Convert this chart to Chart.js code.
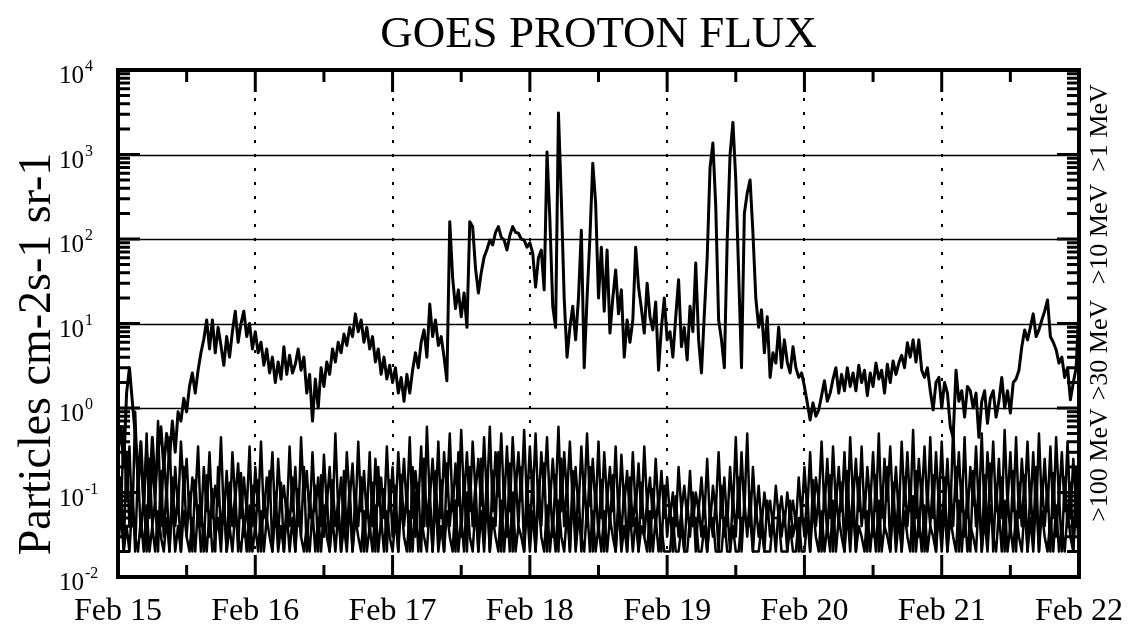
<!DOCTYPE html>
<html>
<head>
<meta charset="utf-8">
<title>GOES Proton Flux</title>
<script src="https://cdn.jsdelivr.net/npm/chart.js@4.4.0/dist/chart.umd.min.js"></script>
<style>
  html, body { margin: 0; padding: 0; background: #fff; }
  #wrap { width: 1138px; height: 630px; }
</style>
</head>
<body>
<div id="wrap"><canvas id="flux-chart" width="1138" height="630"></canvas></div>
<script>
"use strict";

// day labels on the time axis (one every 24 h, starting at hour 0)
const dayLabels = ["Feb 15", "Feb 16", "Feb 17", "Feb 18", "Feb 19", "Feb 20", "Feb 21", "Feb 22"];
// decades shown on the log axis
const decadeExponents = [-2, -1, 0, 1, 2, 3, 4];
const channelLabels = [">100 MeV", ">30 MeV", ">10 MeV", ">1 MeV"];

// all channels: one value every 30 minutes, Feb 15 00:00 to Feb 22 00:00
const flux1MeV = [
  // Feb 15
  0.3, 0.6, 0.2, 1.5, 3.0, 1.2, 0.5, 0.15, 0.4, 0.08, 0.3, 0.1, 0.45, 0.12, 0.3, 0.6,
  0.2, 0.5, 0.25, 0.7, 0.3, 0.9, 0.7, 1.3, 0.9, 1.8, 2.6, 1.5, 2.8, 4.5, 6.5, 11,
  5, 11, 4.5, 9, 5.5, 3.2, 7, 4, 8, 14, 6, 10, 14, 7, 10, 5,
  // Feb 16
  8, 4.5, 6, 3.2, 5, 2.6, 4, 2.0, 3.5, 2.2, 5.3, 2.5, 4.2, 2.6, 3.3, 5,
  2.8, 4, 1.5, 2.5, 0.7, 2.2, 1.0, 3, 1.8, 3.5, 2.5, 5, 3.5, 6, 4.5, 7.5,
  5.5, 9, 7, 13, 8, 11, 6, 9, 5, 7, 3.5, 5, 2.5, 4, 2.2, 3.2,
  // Feb 17
  2, 3, 1.5, 2.3, 1.2, 2.5, 1.5, 2.8, 4.5, 3, 6, 8.4, 4, 17, 7, 11,
  5.5, 7, 4, 2.1, 160, 35, 15, 25, 12, 23, 9, 160, 140, 45, 23, 40,
  61, 75, 97, 85, 120, 140, 105, 97, 74, 110, 140, 120, 117, 100, 97, 80,
  // Feb 18
  90, 68, 27, 60, 74, 25, 1070, 170, 16, 9, 3100, 300, 20, 4, 9, 16,
  6.4, 20, 127, 3, 20, 105, 790, 265, 20, 80, 14, 74, 7.7, 20, 43, 13,
  25, 4, 11, 6, 11, 80, 27, 15, 7.7, 30, 12, 8.4, 18, 2.8, 9, 20,
  // Feb 19
  6.4, 8, 4, 12, 33, 5.3, 9, 3.7, 16, 8, 52, 6.4, 2.6, 13, 60, 700,
  1370, 240, 11, 6.4, 3, 97, 1000, 2400, 500, 40, 3, 200, 350, 500, 117, 20,
  9, 14.5, 4.5, 12, 2.3, 4.5, 3.4, 9, 3, 6.4, 3.5, 2.6, 5.3, 3, 2.3, 2.6,
  // Feb 20
  1.8, 1.15, 0.72, 1.15, 0.8, 0.95, 1.4, 2.1, 1.2, 1.5, 2.2, 3, 1.5, 2.5, 1.6, 3,
  1.8, 2.6, 1.6, 3.2, 2, 2.8, 1.4, 2.6, 1.8, 3.4, 2.2, 2.8, 1.5, 3.3, 2, 3.6,
  2.5, 3.4, 4.2, 3, 5.9, 4, 6.4, 3.5, 6.4, 2.8, 2.3, 3, 1.6, 0.95, 2, 2.3,
  // Feb 21
  1.0, 2, 1.5, 0.6, 0.45, 2.8, 1.2, 1.6, 0.78, 1.8, 1.6, 1.0, 1.5, 0.45, 1.2, 1.6,
  0.66, 1.3, 1.6, 0.78, 1.2, 2.3, 1.0, 1.6, 0.87, 2, 2.2, 2.8, 5.3, 8.4, 6.4, 9,
  13, 7, 8.4, 11, 14, 19, 7, 6, 4.9, 3.4, 4, 2.3, 3, 1.25, 2, 3,
  15
];

const flux10MeV = [
  0.2, 0.05, 0.6, 0.08, 0.35, 0.04, 0.9, 0.1, 0.3, 0.06, 0.5, 0.05, 0.25, 0.07, 0.7, 0.04, 0.3, 0.08, 0.45, 0.05, 0.2, 0.06, 0.4, 0.1,
  0.25, 0.05, 0.15, 0.08, 0.35, 0.04, 0.2, 0.06, 0.3, 0.05, 0.12, 0.07, 0.45, 0.05, 0.18, 0.04, 0.3, 0.08, 0.22, 0.05, 0.15, 0.06, 0.35, 0.04,
  0.2, 0.06, 0.4, 0.05, 0.15, 0.08, 0.3, 0.04, 0.25, 0.07, 0.12, 0.05, 0.35, 0.06, 0.2, 0.04, 0.45, 0.08, 0.18, 0.05, 0.3, 0.06, 0.15, 0.04,
  0.28, 0.07, 0.2, 0.05, 0.5, 0.06, 0.15, 0.04, 0.3, 0.08, 0.22, 0.05, 0.4, 0.06, 0.18, 0.05, 0.3, 0.04, 0.25, 0.07, 0.15, 0.05, 0.35, 0.06,
  0.2, 0.05, 0.3, 0.08, 0.25, 0.06, 0.45, 0.05, 0.18, 0.07, 0.35, 0.04, 0.6, 0.08, 0.25, 0.06, 0.4, 0.05, 0.3, 0.09, 0.5, 0.06, 0.22, 0.07,
  0.55, 0.08, 0.3, 0.06, 0.4, 0.1, 0.25, 0.07, 0.45, 0.08, 0.6, 0.06, 0.3, 0.09, 0.5, 0.07, 0.35, 0.06, 0.45, 0.1, 0.3, 0.08, 0.55, 0.07,
  0.35, 0.08, 0.5, 0.06, 0.3, 0.1, 0.45, 0.07, 0.25, 0.08, 0.6, 0.06, 0.3, 0.09, 0.4, 0.07, 0.2, 0.06, 0.35, 0.08, 0.5, 0.07, 0.25, 0.06,
  0.4, 0.05, 0.3, 0.08, 0.2, 0.06, 0.35, 0.05, 0.28, 0.07, 0.18, 0.05, 0.3, 0.06, 0.22, 0.05, 0.35, 0.07, 0.15, 0.05, 0.25, 0.06, 0.18, 0.05,
  0.15, 0.05, 0.1, 0.04, 0.2, 0.06, 0.12, 0.05, 0.18, 0.04, 0.1, 0.06, 0.15, 0.05, 0.25, 0.04, 0.12, 0.06, 0.3, 0.05, 0.15, 0.04, 0.2, 0.06,
  0.45, 0.05, 0.3, 0.06, 0.5, 0.04, 0.2, 0.05, 0.12, 0.04, 0.1, 0.05, 0.08, 0.04, 0.12, 0.05, 0.09, 0.04, 0.1, 0.05, 0.08, 0.04, 0.15, 0.05,
  0.2, 0.06, 0.3, 0.05, 0.15, 0.08, 0.4, 0.06, 0.25, 0.05, 0.35, 0.07, 0.2, 0.06, 0.3, 0.05, 0.45, 0.08, 0.25, 0.06, 0.35, 0.05, 0.2, 0.07,
  0.3, 0.06, 0.5, 0.05, 0.25, 0.08, 0.35, 0.06, 0.2, 0.05, 0.4, 0.07, 0.3, 0.06, 0.55, 0.05, 0.25, 0.08, 0.35, 0.06, 0.45, 0.05, 0.3, 0.07,
  0.4, 0.06, 0.25, 0.05, 0.6, 0.08, 0.3, 0.06, 0.45, 0.05, 0.2, 0.07, 0.35, 0.06, 0.5, 0.05, 0.3, 0.08, 0.4, 0.06, 0.25, 0.05, 0.55, 0.07,
  0.3, 0.06, 0.45, 0.05, 0.25, 0.08, 0.4, 0.06, 0.3, 0.05, 0.5, 0.07, 0.25, 0.06, 0.35, 0.05, 0.45, 0.08, 0.3, 0.06, 0.4, 0.05, 0.25, 0.07,
  0.35
];

const flux30MeV = [
  0.03, 0.15, 0.02, 0.3, 0.04, 0.12, 0.02, 0.2, 0.03, 0.1, 0.02, 0.25, 0.04, 0.08, 0.02, 0.18, 0.03, 0.12, 0.02, 0.15, 0.04, 0.09, 0.02, 0.2,
  0.03, 0.1, 0.02, 0.14, 0.04, 0.08, 0.02, 0.16, 0.03, 0.11, 0.02, 0.2, 0.03, 0.09, 0.02, 0.13, 0.04, 0.1, 0.02, 0.17, 0.03, 0.08, 0.02, 0.12,
  0.03, 0.14, 0.02, 0.09, 0.04, 0.18, 0.02, 0.1, 0.03, 0.13, 0.02, 0.08, 0.04, 0.15, 0.02, 0.11, 0.03, 0.2, 0.02, 0.09, 0.04, 0.12, 0.02, 0.16,
  0.03, 0.1, 0.02, 0.14, 0.04, 0.08, 0.02, 0.18, 0.03, 0.12, 0.02, 0.1, 0.04, 0.15, 0.02, 0.09, 0.03, 0.13, 0.02, 0.2, 0.04, 0.11, 0.02, 0.14,
  0.03, 0.12, 0.02, 0.16, 0.04, 0.1, 0.02, 0.2, 0.03, 0.13, 0.02, 0.25, 0.04, 0.11, 0.02, 0.18, 0.03, 0.14, 0.02, 0.22, 0.04, 0.12, 0.02, 0.3,
  0.03, 0.15, 0.02, 0.2, 0.04, 0.13, 0.02, 0.25, 0.03, 0.16, 0.02, 0.18, 0.04, 0.3, 0.02, 0.14, 0.03, 0.22, 0.02, 0.17, 0.04, 0.2, 0.02, 0.15,
  0.03, 0.18, 0.02, 0.14, 0.04, 0.22, 0.02, 0.12, 0.03, 0.16, 0.02, 0.25, 0.04, 0.13, 0.02, 0.18, 0.03, 0.11, 0.02, 0.15, 0.04, 0.2, 0.02, 0.12,
  0.03, 0.14, 0.02, 0.1, 0.04, 0.16, 0.02, 0.09, 0.03, 0.12, 0.02, 0.15, 0.04, 0.1, 0.02, 0.13, 0.03, 0.08, 0.02, 0.11, 0.04, 0.09, 0.02, 0.12,
  0.03, 0.07, 0.02, 0.09, 0.03, 0.06, 0.02, 0.08, 0.03, 0.1, 0.02, 0.07, 0.03, 0.09, 0.02, 0.06, 0.03, 0.08, 0.02, 0.12, 0.03, 0.07, 0.02, 0.09,
  0.03, 0.15, 0.02, 0.08, 0.03, 0.1, 0.02, 0.07, 0.03, 0.06, 0.02, 0.08, 0.03, 0.05, 0.02, 0.07, 0.03, 0.06, 0.02, 0.08, 0.03, 0.05, 0.02, 0.07,
  0.03, 0.1, 0.02, 0.14, 0.04, 0.09, 0.02, 0.12, 0.03, 0.16, 0.02, 0.1, 0.04, 0.13, 0.02, 0.18, 0.03, 0.11, 0.02, 0.15, 0.04, 0.09, 0.02, 0.12,
  0.03, 0.16, 0.02, 0.11, 0.04, 0.2, 0.02, 0.13, 0.03, 0.1, 0.02, 0.15, 0.04, 0.12, 0.02, 0.18, 0.03, 0.14, 0.02, 0.1, 0.04, 0.16, 0.02, 0.13,
  0.03, 0.15, 0.02, 0.12, 0.04, 0.2, 0.02, 0.14, 0.03, 0.1, 0.02, 0.18, 0.04, 0.13, 0.02, 0.16, 0.03, 0.22, 0.02, 0.12, 0.04, 0.15, 0.02, 0.1,
  0.03, 0.18, 0.02, 0.13, 0.04, 0.16, 0.02, 0.11, 0.03, 0.2, 0.02, 0.14, 0.04, 0.12, 0.02, 0.17, 0.03, 0.1, 0.02, 0.15, 0.04, 0.13, 0.02, 0.19,
  0.03
];

const flux100MeV = [
  0.02, 0.06, 0.02, 0.04, 0.02, 0.08, 0.03, 0.02, 0.05, 0.02, 0.07, 0.02, 0.04, 0.02, 0.06, 0.03, 0.02, 0.05, 0.02, 0.08, 0.02, 0.04, 0.02, 0.06,
  0.03, 0.02, 0.05, 0.02, 0.07, 0.02, 0.04, 0.02, 0.06, 0.02, 0.03, 0.05, 0.02, 0.08, 0.02, 0.04, 0.02, 0.06, 0.03, 0.02, 0.05, 0.02, 0.07, 0.02,
  0.04, 0.02, 0.06, 0.02, 0.05, 0.03, 0.02, 0.07, 0.02, 0.04, 0.02, 0.06, 0.02, 0.05, 0.02, 0.08, 0.03, 0.02, 0.04, 0.02, 0.06, 0.02, 0.05, 0.02,
  0.07, 0.03, 0.02, 0.05, 0.02, 0.06, 0.02, 0.04, 0.02, 0.08, 0.02, 0.05, 0.03, 0.02, 0.06, 0.02, 0.04, 0.02, 0.07, 0.02, 0.05, 0.02, 0.06, 0.03,
  0.02, 0.05, 0.02, 0.08, 0.03, 0.02, 0.06, 0.02, 0.1, 0.02, 0.05, 0.03, 0.02, 0.07, 0.02, 0.09, 0.02, 0.04, 0.02, 0.06, 0.03, 0.02, 0.08, 0.02,
  0.05, 0.02, 0.1, 0.03, 0.02, 0.07, 0.02, 0.06, 0.02, 0.09, 0.02, 0.05, 0.03, 0.02, 0.08, 0.02, 0.06, 0.02, 0.1, 0.02, 0.04, 0.03, 0.02, 0.07,
  0.02, 0.06, 0.02, 0.09, 0.03, 0.02, 0.07, 0.02, 0.05, 0.02, 0.08, 0.03, 0.02, 0.06, 0.02, 0.1, 0.02, 0.05, 0.03, 0.02, 0.07, 0.02, 0.06, 0.02,
  0.04, 0.02, 0.06, 0.02, 0.05, 0.03, 0.02, 0.07, 0.02, 0.04, 0.02, 0.06, 0.02, 0.05, 0.02, 0.04, 0.03, 0.02, 0.06, 0.02, 0.05, 0.02, 0.04, 0.02,
  0.02, 0.02, 0.05, 0.02, 0.02, 0.04, 0.02, 0.02, 0.05, 0.05, 0.05, 0.02, 0.02, 0.04, 0.02, 0.05, 0.05, 0.02, 0.02, 0.02, 0.05, 0.02, 0.02, 0.04,
  0.02, 0.02, 0.05, 0.05, 0.05, 0.05, 0.02, 0.02, 0.02, 0.04, 0.02, 0.02, 0.02, 0.05, 0.05, 0.05, 0.02, 0.02, 0.02, 0.04, 0.02, 0.02, 0.05, 0.02,
  0.02, 0.05, 0.02, 0.07, 0.03, 0.02, 0.06, 0.02, 0.04, 0.02, 0.08, 0.02, 0.05, 0.03, 0.02, 0.06, 0.02, 0.07, 0.02, 0.04, 0.03, 0.02, 0.06, 0.02,
  0.05, 0.02, 0.08, 0.02, 0.04, 0.03, 0.02, 0.07, 0.02, 0.05, 0.02, 0.06, 0.03, 0.02, 0.09, 0.02, 0.05, 0.02, 0.07, 0.02, 0.04, 0.03, 0.02, 0.06,
  0.02, 0.07, 0.02, 0.05, 0.03, 0.02, 0.08, 0.02, 0.06, 0.02, 0.04, 0.03, 0.02, 0.09, 0.02, 0.05, 0.02, 0.07, 0.03, 0.02, 0.06, 0.02, 0.08, 0.02,
  0.04, 0.02, 0.06, 0.03, 0.02, 0.07, 0.02, 0.05, 0.02, 0.09, 0.02, 0.06, 0.03, 0.02, 0.05, 0.02, 0.07, 0.02, 0.04, 0.02, 0.06, 0.03, 0.02, 0.08,
  0.02
];

const SAMPLE_HOURS = 0.5;
const SERIF = "'Liberation Serif', 'Times New Roman', serif";

// turn a value list into {x: hours, y: flux} points
function toPoints(values) {
  const points = [];
  for (let i = 0; i < values.length; i++) {
    points.push({ x: i * SAMPLE_HOURS, y: values[i] });
  }
  return points;
}

function lineDataset(label, values, width) {
  return {
    label: label,
    data: toPoints(values),
    borderColor: "#000",
    borderWidth: width,
    borderJoinStyle: "round",
    pointRadius: 0,
    tension: 0,
    fill: false,
  };
}

// grid lines, frame, inward ticks and all the text around the plot
const framePlugin = {
  id: "frame",
  beforeDatasetsDraw(chart) {
    const { ctx, chartArea: a, scales } = chart;
    ctx.save();
    ctx.strokeStyle = "#000";

    // solid lines at the inner decades
    ctx.lineWidth = 1.5;
    for (let i = 1; i < decadeExponents.length - 1; i++) {
      if (decadeExponents[i] < 0) continue;
      const py = Math.round(scales.y.getPixelForValue(Math.pow(10, decadeExponents[i]))) + 0.5;
      ctx.beginPath();
      ctx.moveTo(a.left, py);
      ctx.lineTo(a.right, py);
      ctx.stroke();
    }

    // dotted lines at each day boundary
    ctx.lineWidth = 2;
    ctx.setLineDash([3, 11]);
    for (let d = 1; d < dayLabels.length - 1; d++) {
      const px = Math.round(scales.x.getPixelForValue(d * 24));
      ctx.beginPath();
      ctx.moveTo(px, a.top);
      ctx.lineTo(px, a.bottom);
      ctx.stroke();
    }
    ctx.restore();
  },
  afterDatasetsDraw(chart) {
    const { ctx, chartArea: a, scales } = chart;
    ctx.save();
    ctx.strokeStyle = "#000";
    ctx.fillStyle = "#000";

    // log axis ticks, left and right
    ctx.lineWidth = 3;
    for (let i = 0; i < decadeExponents.length; i++) {
      const base = Math.pow(10, decadeExponents[i]);
      for (let m = 1; m <= 9; m++) {
        if (i === decadeExponents.length - 1 && m > 1) break;
        const py = scales.y.getPixelForValue(base * m);
        const len = m === 1 ? 22 : 12;
        ctx.beginPath();
        ctx.moveTo(a.left, py);
        ctx.lineTo(a.left + len, py);
        ctx.moveTo(a.right, py);
        ctx.lineTo(a.right - len, py);
        ctx.stroke();
      }
    }

    // time axis ticks every 12 hours, top and bottom
    for (let h = 0; h <= (dayLabels.length - 1) * 24; h += 12) {
      const px = scales.x.getPixelForValue(h);
      const len = h % 24 === 0 ? 22 : 12;
      ctx.beginPath();
      ctx.moveTo(px, a.bottom);
      ctx.lineTo(px, a.bottom - len);
      ctx.moveTo(px, a.top);
      ctx.lineTo(px, a.top + len);
      ctx.stroke();
    }

    // frame
    ctx.lineWidth = 4;
    ctx.strokeRect(a.left, a.top, a.right - a.left, a.bottom - a.top);

    // decade labels with raised exponent
    for (let i = 0; i < decadeExponents.length; i++) {
      const py = scales.y.getPixelForValue(Math.pow(10, decadeExponents[i]));
      ctx.textAlign = "right";
      ctx.textBaseline = "alphabetic";
      ctx.font = "25px " + SERIF;
      ctx.fillText("10", 84, py + 13);
      ctx.textAlign = "left";
      ctx.font = "16px " + SERIF;
      ctx.fillText(String(decadeExponents[i]), 85, py + 1);
    }

    // title
    ctx.textAlign = "center";
    ctx.font = "45px " + SERIF;
    ctx.fillText("GOES PROTON FLUX", (a.left + a.right) / 2, 47);

    // y axis title
    ctx.save();
    ctx.translate(50, 354);
    ctx.rotate(-Math.PI / 2);
    ctx.font = "46px " + SERIF;
    ctx.fillText("Particles cm-2s-1 sr-1", 0, 0);
    ctx.restore();

    // channel names down the right side
    const channelCentres = [465, 350, 234, 128];
    ctx.font = "26px " + SERIF;
    for (let i = 0; i < channelLabels.length; i++) {
      ctx.save();
      ctx.translate(1107, channelCentres[i]);
      ctx.rotate(-Math.PI / 2);
      ctx.fillText(channelLabels[i], 0, 0);
      ctx.restore();
    }
    ctx.restore();
  },
};

const ctx = document.getElementById("flux-chart");

const fluxChart = new Chart(ctx, {
  type: "line",
  data: {
    datasets: [
      lineDataset(channelLabels[0], flux100MeV, 2.5),
      lineDataset(channelLabels[1], flux30MeV, 2.5),
      lineDataset(channelLabels[2], flux10MeV, 2.5),
      lineDataset(channelLabels[3], flux1MeV, 3),
    ],
  },
  options: {
    responsive: false,
    animation: false,
    devicePixelRatio: 1,
    layout: { padding: { left: 0, right: 58, top: 70, bottom: 0 } },
    plugins: {
      legend: { display: false },
      tooltip: { enabled: false },
      title: { display: false },
    },
    scales: {
      x: {
        type: "linear",
        min: 0,
        max: (dayLabels.length - 1) * 24,
        grid: { display: false, drawTicks: false },
        border: { display: false },
        afterFit: (scale) => { scale.height = 53; },
        ticks: {
          stepSize: 24,
          autoSkip: false,
          maxRotation: 0,
          padding: 15,
          color: "#000",
          font: { family: SERIF, size: 32 },
          callback: (value) => dayLabels[Math.round(value / 24)],
        },
      },
      y: {
        type: "logarithmic",
        min: 0.01,
        max: 10000,
        grid: { display: false, drawTicks: false },
        border: { display: false },
        ticks: { display: false },
        afterFit: (scale) => { scale.width = 118; },
      },
    },
  },
  plugins: [framePlugin],
});
</script>
</body>
</html>
